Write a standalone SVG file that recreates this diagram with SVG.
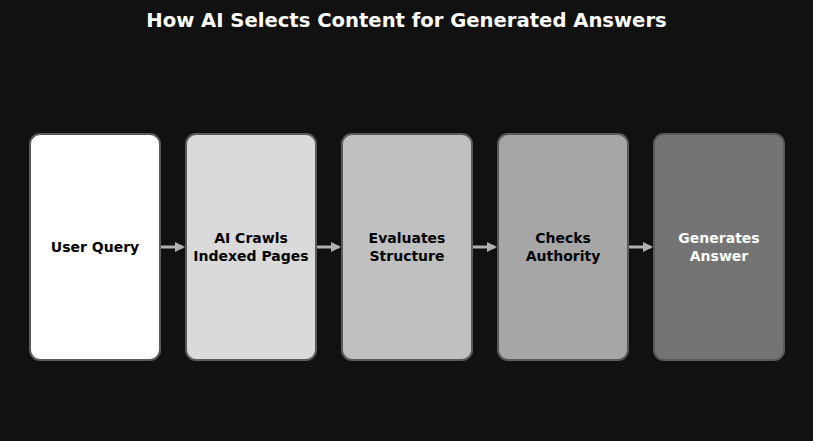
<svg xmlns="http://www.w3.org/2000/svg" width="813" height="441" viewBox="0 0 813 441">
<defs>
<style>
.box{stroke:#5a5a5a;stroke-width:2}
.lbl{font-family:"DejaVu Sans",sans-serif;font-weight:bold;font-size:14px;text-anchor:middle}
.title{font-family:"DejaVu Sans",sans-serif;font-weight:bold;font-size:19.6px;text-anchor:middle;fill:#ffffff}
.conn{stroke:#b0b0b0;stroke-width:3;fill:none}
</style>
<marker id="ah" markerWidth="10" markerHeight="10" refX="8" refY="5" orient="auto" markerUnits="userSpaceOnUse">
<path d="M0,0 L10,5 L0,10 z" fill="#b0b0b0"/>
</marker>
</defs>
<rect width="813" height="441" fill="#111111"/>
<text class="title" x="406.5" y="27">How AI Selects Content for Generated Answers</text>
<g id="connectors">
<line class="conn" x1="161" y1="247" x2="183" y2="247" marker-end="url(#ah)"/>
<line class="conn" x1="317" y1="247" x2="339" y2="247" marker-end="url(#ah)"/>
<line class="conn" x1="473" y1="247" x2="495" y2="247" marker-end="url(#ah)"/>
<line class="conn" x1="629" y1="247" x2="651" y2="247" marker-end="url(#ah)"/>
</g>
<g id="n1">
<rect class="box" x="30" y="134" width="130" height="226" rx="10" fill="#ffffff"/>
<text class="lbl" x="95" y="252" fill="#000">User Query</text>
</g>
<g id="n2">
<rect class="box" x="186" y="134" width="130" height="226" rx="10" fill="#dadada"/>
<text class="lbl" x="251" y="243" fill="#000">AI Crawls</text>
<text class="lbl" x="251" y="261" fill="#000">Indexed Pages</text>
</g>
<g id="n3">
<rect class="box" x="342" y="134" width="130" height="226" rx="10" fill="#c0c0c0"/>
<text class="lbl" x="407" y="243" fill="#000">Evaluates</text>
<text class="lbl" x="407" y="261" fill="#000">Structure</text>
</g>
<g id="n4">
<rect class="box" x="498" y="134" width="130" height="226" rx="10" fill="#a6a6a6"/>
<text class="lbl" x="563" y="243" fill="#000">Checks</text>
<text class="lbl" x="563" y="261" fill="#000">Authority</text>
</g>
<g id="n5">
<rect class="box" x="654" y="134" width="130" height="226" rx="10" fill="#747474"/>
<text class="lbl" x="719" y="243" fill="#ffffff">Generates</text>
<text class="lbl" x="719" y="261" fill="#ffffff">Answer</text>
</g>
</svg>
